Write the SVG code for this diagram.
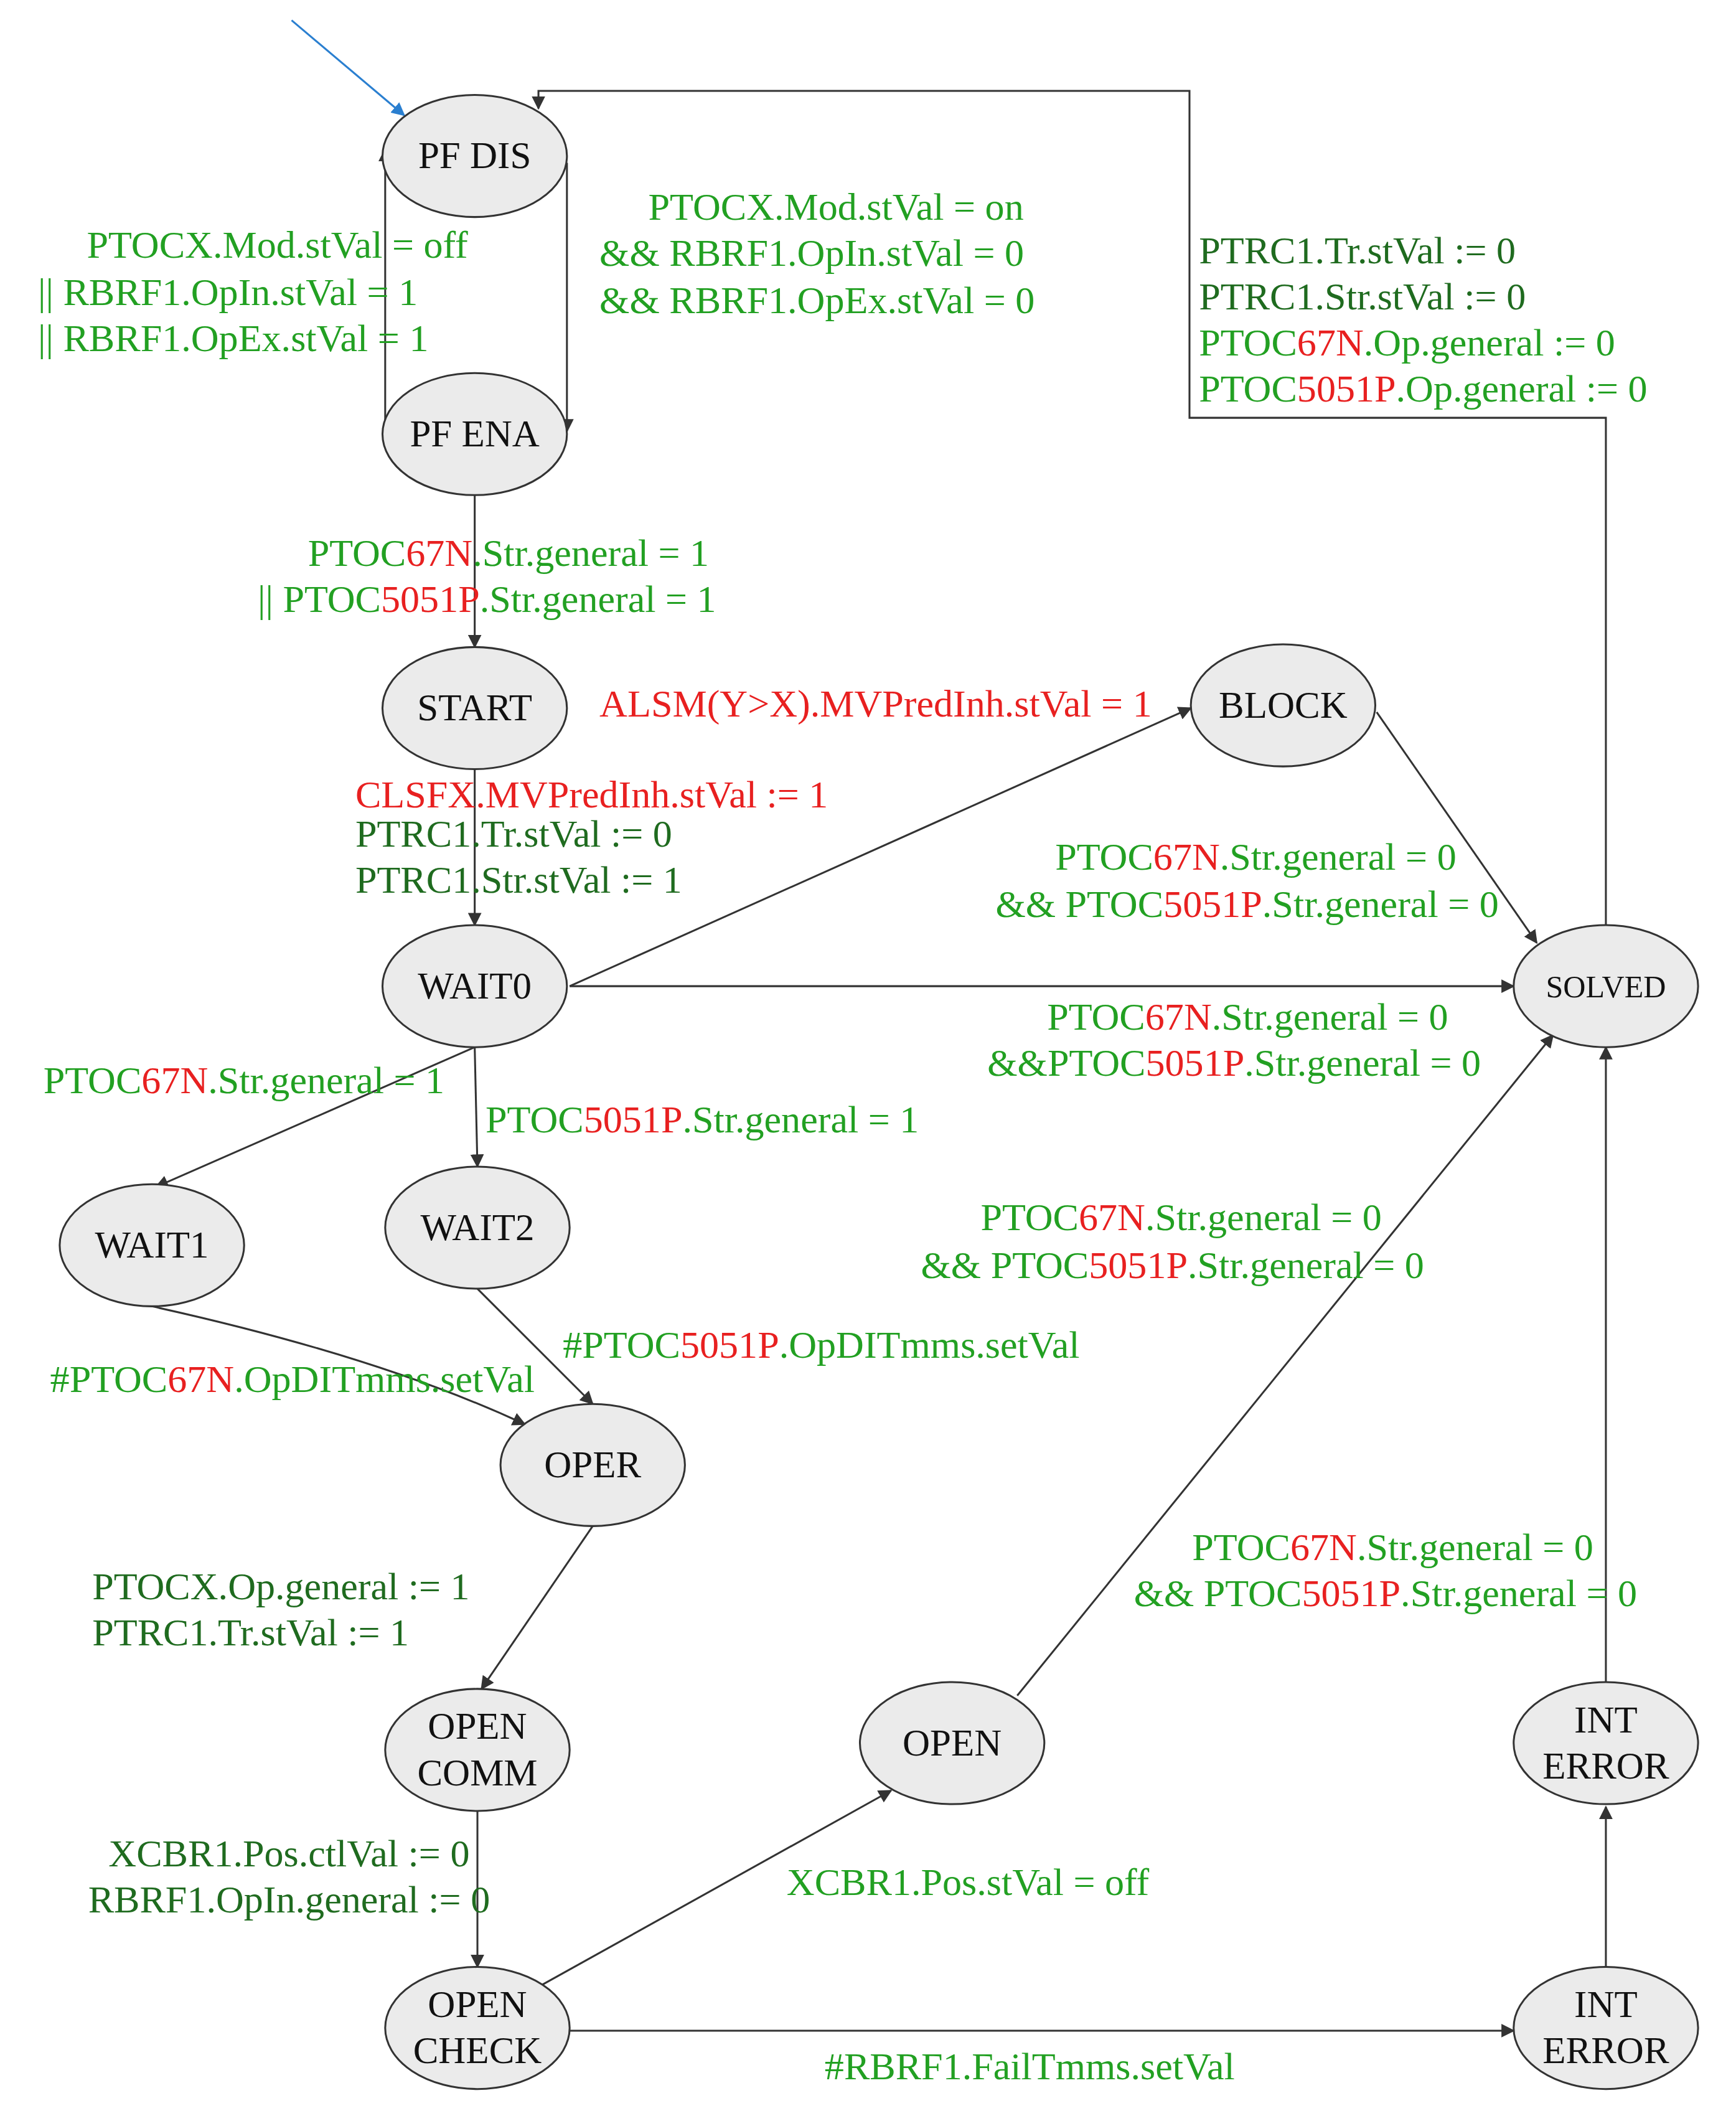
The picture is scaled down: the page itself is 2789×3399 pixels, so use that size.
<svg xmlns="http://www.w3.org/2000/svg" width="2789" height="3399" viewBox="0 0 2789 3399">
<style>
.n ellipse{fill:#ebebeb;stroke:#333;stroke-width:1.4}
.n text{font-family:"Liberation Serif",serif;font-size:28px;fill:#111;text-anchor:middle}
.e{fill:none;stroke:#333;stroke-width:1.4;marker-end:url(#a)}
.l{font-family:"Liberation Serif",serif;font-size:28.5px;fill:#22a022}
.d{fill:#1f6b1f}
.r{fill:#e82020}
</style>
<defs><marker id="a" markerWidth="10" markerHeight="10" refX="9" refY="5" orient="auto" markerUnits="userSpaceOnUse"><path d="M0,0 L10,5 L0,10 z" fill="#333"/></marker>
<marker id="b" markerWidth="10" markerHeight="10" refX="9" refY="5" orient="auto" markerUnits="userSpaceOnUse"><path d="M0,0 L10,5 L0,10 z" fill="#2a7fd0"/></marker></defs>
<rect width="2789" height="3399" fill="#fff"/>
<g transform="scale(2.179)">
<g id="connectors">
<line x1="215" y1="15" x2="298" y2="85" stroke="#2a7fd0" stroke-width="1.4" marker-end="url(#b)"/>
<path class="e" d="M418,120 L418,318"/>
<path class="e" d="M284,318 L284,110"/>
<path class="e" d="M350,365 L350,477"/>
<path class="e" d="M350,567 L350,682"/>
<path class="e" d="M420,727 L878,522"/>
<path class="e" d="M1015,525 L1133,695"/>
<path class="e" d="M420,727 L1116,727"/>
<path class="e" d="M1184,682 L1184,308 L877,308 L877,67 L397,67 L397,80"/>
<path class="e" d="M350,772 L115,875"/>
<path class="e" d="M350,772 L352,860"/>
<path class="e" d="M112,963 Q280,1000 387,1050"/>
<path class="e" d="M352,950 L437,1035"/>
<path class="e" d="M437,1125 L355,1245"/>
<path class="e" d="M352,1335 L352,1450"/>
<path class="e" d="M400,1463 L657,1320"/>
<path class="e" d="M750,1250 L1145,763"/>
<path class="e" d="M420,1497 L1116,1497"/>
<path class="e" d="M1184,1450 L1184,1332"/>
<path class="e" d="M1184,1240 L1184,772"/>
</g>
<g id="pfdis" class="n"><ellipse cx="350" cy="115" rx="68" ry="45"/><text x="350" y="124">PF DIS</text></g>
<g id="pfena" class="n"><ellipse cx="350" cy="320" rx="68" ry="45"/><text x="350" y="329">PF ENA</text></g>
<g id="start" class="n"><ellipse cx="350" cy="522" rx="68" ry="45"/><text x="350" y="531">START</text></g>
<g id="block" class="n"><ellipse cx="946" cy="520" rx="68" ry="45"/><text x="946" y="529">BLOCK</text></g>
<g id="wait0" class="n"><ellipse cx="350" cy="727" rx="68" ry="45"/><text x="350" y="736">WAIT0</text></g>
<g id="solved" class="n"><ellipse cx="1184" cy="727" rx="68" ry="45"/><text x="1184" y="735" style="font-size:23px">SOLVED</text></g>
<g id="wait1" class="n"><ellipse cx="112" cy="918" rx="68" ry="45"/><text x="112" y="927">WAIT1</text></g>
<g id="wait2" class="n"><ellipse cx="352" cy="905" rx="68" ry="45"/><text x="352" y="914">WAIT2</text></g>
<g id="oper" class="n"><ellipse cx="437" cy="1080" rx="68" ry="45"/><text x="437" y="1089">OPER</text></g>
<g id="opencomm" class="n"><ellipse cx="352" cy="1290" rx="68" ry="45"/><text x="352" y="1282">OPEN</text><text x="352" y="1316">COMM</text></g>
<g id="open" class="n"><ellipse cx="702" cy="1285" rx="68" ry="45"/><text x="702" y="1294">OPEN</text></g>
<g id="interr1" class="n"><ellipse cx="1184" cy="1285" rx="68" ry="45"/><text x="1184" y="1277">INT</text><text x="1184" y="1311">ERROR</text></g>
<g id="opencheck" class="n"><ellipse cx="352" cy="1495" rx="68" ry="45"/><text x="352" y="1487">OPEN</text><text x="352" y="1521">CHECK</text></g>
<g id="interr2" class="n"><ellipse cx="1184" cy="1495" rx="68" ry="45"/><text x="1184" y="1487">INT</text><text x="1184" y="1521">ERROR</text></g>
<g id="labels" class="l">
<text x="64" y="190">PTOCX.Mod.stVal = off</text>
<text x="28" y="225">|| RBRF1.OpIn.stVal = 1</text>
<text x="28" y="259">|| RBRF1.OpEx.stVal = 1</text>
<text x="478" y="162">PTOCX.Mod.stVal = on</text>
<text x="442" y="196">&amp;&amp; RBRF1.OpIn.stVal = 0</text>
<text x="442" y="231">&amp;&amp; RBRF1.OpEx.stVal = 0</text>
<text x="884" y="194" class="d">PTRC1.Tr.stVal := 0</text>
<text x="884" y="228" class="d">PTRC1.Str.stVal := 0</text>
<text x="884" y="262">PTOC<tspan class="r">67N</tspan>.Op.general := 0</text>
<text x="884" y="296">PTOC<tspan class="r">5051P</tspan>.Op.general := 0</text>
<text x="227" y="417">PTOC<tspan class="r">67N</tspan>.Str.general = 1</text>
<text x="190" y="451">|| PTOC<tspan class="r">5051P</tspan>.Str.general = 1</text>
<text x="442" y="528" class="r">ALSM(Y&gt;X).MVPredInh.stVal = 1</text>
<text x="262" y="595" class="r">CLSFX.MVPredInh.stVal := 1</text>
<text x="262" y="624" class="d">PTRC1.Tr.stVal := 0</text>
<text x="262" y="658" class="d">PTRC1.Str.stVal := 1</text>
<text x="778" y="641">PTOC<tspan class="r">67N</tspan>.Str.general = 0</text>
<text x="734" y="676">&amp;&amp; PTOC<tspan class="r">5051P</tspan>.Str.general = 0</text>
<text x="772" y="759">PTOC<tspan class="r">67N</tspan>.Str.general = 0</text>
<text x="728" y="793">&amp;&amp;PTOC<tspan class="r">5051P</tspan>.Str.general = 0</text>
<text x="32" y="806">PTOC<tspan class="r">67N</tspan>.Str.general = 1</text>
<text x="358" y="835">PTOC<tspan class="r">5051P</tspan>.Str.general = 1</text>
<text x="723" y="907">PTOC<tspan class="r">67N</tspan>.Str.general = 0</text>
<text x="679" y="942">&amp;&amp; PTOC<tspan class="r">5051P</tspan>.Str.general = 0</text>
<text x="415" y="1001">#PTOC<tspan class="r">5051P</tspan>.OpDITmms.setVal</text>
<text x="37" y="1026">#PTOC<tspan class="r">67N</tspan>.OpDITmms.setVal</text>
<text x="68" y="1179" class="d">PTOCX.Op.general := 1</text>
<text x="68" y="1213" class="d">PTRC1.Tr.stVal := 1</text>
<text x="879" y="1150">PTOC<tspan class="r">67N</tspan>.Str.general = 0</text>
<text x="836" y="1184">&amp;&amp; PTOC<tspan class="r">5051P</tspan>.Str.general = 0</text>
<text x="80" y="1376" class="d">XCBR1.Pos.ctlVal := 0</text>
<text x="65" y="1410" class="d">RBRF1.OpIn.general := 0</text>
<text x="580" y="1397">XCBR1.Pos.stVal = off</text>
<text x="608" y="1533">#RBRF1.FailTmms.setVal</text>
</g>
</g>
</svg>
